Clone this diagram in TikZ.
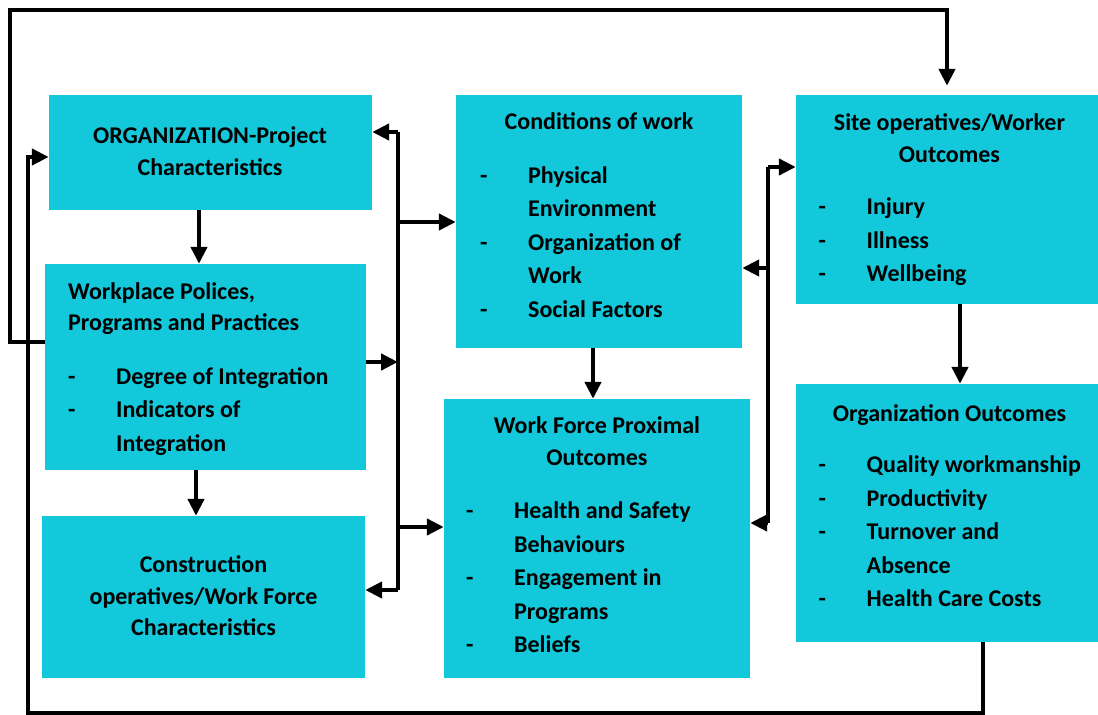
\documentclass[tikz,border=0pt]{standalone}
\usepackage{fontspec}
\setmainfont{Carlito}
\usetikzlibrary{arrows.meta, positioning, calc}
\definecolor{box-cyan}{HTML}{12C8DA}

\begin{document}
\begin{tikzpicture}[
    x=1pt, y=-1pt,
    box/.style={rectangle, fill=box-cyan, inner sep=0pt},
    title/.style={anchor=base, inner sep=0pt, font=\bfseries\fontsize{24}{31.5}\selectfont},
    items/.style={anchor=base west, inner sep=0pt, font=\bfseries\fontsize{24}{33.5}\selectfont},
    line/.style={line width=4.5pt, black},
    arrow/.style={line, -{Triangle[length=17pt, width=16pt]}}
]
    \useasboundingbox (0,0) rectangle (1098,715);

    % boxes
    \node[box, minimum width=323pt, minimum height=115pt] (org) at (210.5,152.5) {};
    \node[box, minimum width=321pt, minimum height=206pt] (policy) at (205.5,367) {};
    \node[box, minimum width=323pt, minimum height=162pt] (workforce) at (203.5,597) {};
    \node[box, minimum width=286pt, minimum height=253pt] (conditions) at (599,221.5) {};
    \node[box, minimum width=306pt, minimum height=279pt] (proximal) at (597,538.5) {};
    \node[box, minimum width=302pt, minimum height=209pt] (site) at (947,199.5) {};
    \node[box, minimum width=302pt, minimum height=258pt] (orgout) at (947,513) {};

    % texts
    \node[title] (org-t) at (210,143.5) {\begin{tabular}[t]{@{}c@{}}ORGANIZATION-Project\\Characteristics\end{tabular}};
    \node[title, anchor=base west] (policy-t) at (68,299.3) {\begin{tabular}[t]{@{}l@{}}Workplace Polices,\\Programs and Practices\end{tabular}};
    \node[items] (policy-l) at (68,384) {\begin{tabular}[t]{@{}p{48pt}@{}l@{}}
        - & Degree of Integration\\ - & Indicators of\\ & Integration\end{tabular}};
    \node[title] (workforce-t) at (203.5,572.5) {\begin{tabular}[t]{@{}c@{}}Construction\\operatives/Work Force\\Characteristics\end{tabular}};
    \node[title] (conditions-t) at (599,129.3) {Conditions of work};
    \node[items] (conditions-l) at (480,183.3) {\begin{tabular}[t]{@{}p{48pt}@{}l@{}}
        - & Physical\\ & Environment\\ - & Organization of\\ & Work\\ - & Social Factors\end{tabular}};
    \node[title] (proximal-t) at (597,433.5) {\begin{tabular}[t]{@{}c@{}}Work Force Proximal\\Outcomes\end{tabular}};
    \node[items] (proximal-l) at (466,518.5) {\begin{tabular}[t]{@{}p{48pt}@{}l@{}}
        - & Health and Safety\\ & Behaviours\\ - & Engagement in\\ & Programs\\ - & Beliefs\end{tabular}};
    \node[title] (site-t) at (949.5,130.5) {\begin{tabular}[t]{@{}c@{}}Site operatives/Worker\\Outcomes\end{tabular}};
    \node[items] (site-l) at (818.5,214.5) {\begin{tabular}[t]{@{}p{48pt}@{}l@{}}
        - & Injury\\ - & Illness\\ - & Wellbeing\end{tabular}};
    \node[title] (orgout-t) at (949.5,421) {Organization Outcomes};
    \node[items] (orgout-l) at (818.5,472.7) {\begin{tabular}[t]{@{}p{48pt}@{}l@{}}
        - & Quality workmanship\\ - & Productivity\\ - & Turnover and\\ & Absence\\ - & Health Care Costs\end{tabular}};

    % bus points
    \coordinate (lb1) at (398,132);
    \coordinate (lb2) at (398,222);
    \coordinate (lb3) at (398,362);
    \coordinate (lb4) at (398,527);
    \coordinate (lb5) at (398,590);
    \coordinate (rb1) at (768,167);
    \coordinate (rb2) at (768,268);
    \coordinate (rb3) at (768,523);
    \coordinate (loopA) at (10,342);
    \coordinate (loopB) at (947,10);
    \coordinate (loopC) at (983,713);
    \coordinate (loopD) at (28,157);

    % arrows
    \draw[arrow] ([xshift=-11.5pt]org.south) -- ([xshift=-11.5pt]org.south |- policy.north);
    \draw[arrow] ([xshift=-9.5pt]policy.south) -- ([xshift=-9.5pt]policy.south |- workforce.north);
    \draw[arrow] ([xshift=-6pt]conditions.south) -- ([xshift=-6pt]conditions.south |- proximal.north);
    \draw[arrow] ([xshift=13pt]site.south) -- ([xshift=13pt]site.south |- orgout.north);

    \draw[line] (lb1) -- (lb5);
    \draw[arrow] (lb1) -- (lb1 -| org.east);
    \draw[arrow] (lb2) -- (lb2 -| conditions.west);
    \draw[arrow] (lb3 -| policy.east) -- (lb3);
    \draw[arrow] (lb4) -- (lb4 -| proximal.west);
    \draw[arrow] (lb5) -- (lb5 -| workforce.east);

    \draw[line] (rb1) -- (rb3);
    \draw[arrow] (rb1) -- (rb1 -| site.west);
    \draw[arrow] (rb2) -- (rb2 -| conditions.east);
    \draw[arrow] (rb3) -- (rb3 -| proximal.east);

    \draw[arrow, shorten >=9pt] (loopA -| policy.west) -- (loopA) |- (loopB) -- (loopB |- site.north);
    \draw[arrow] (loopC |- orgout.south) -- (loopC) -| (loopD) -- (loopD -| org.west);
\end{tikzpicture}
\end{document}
